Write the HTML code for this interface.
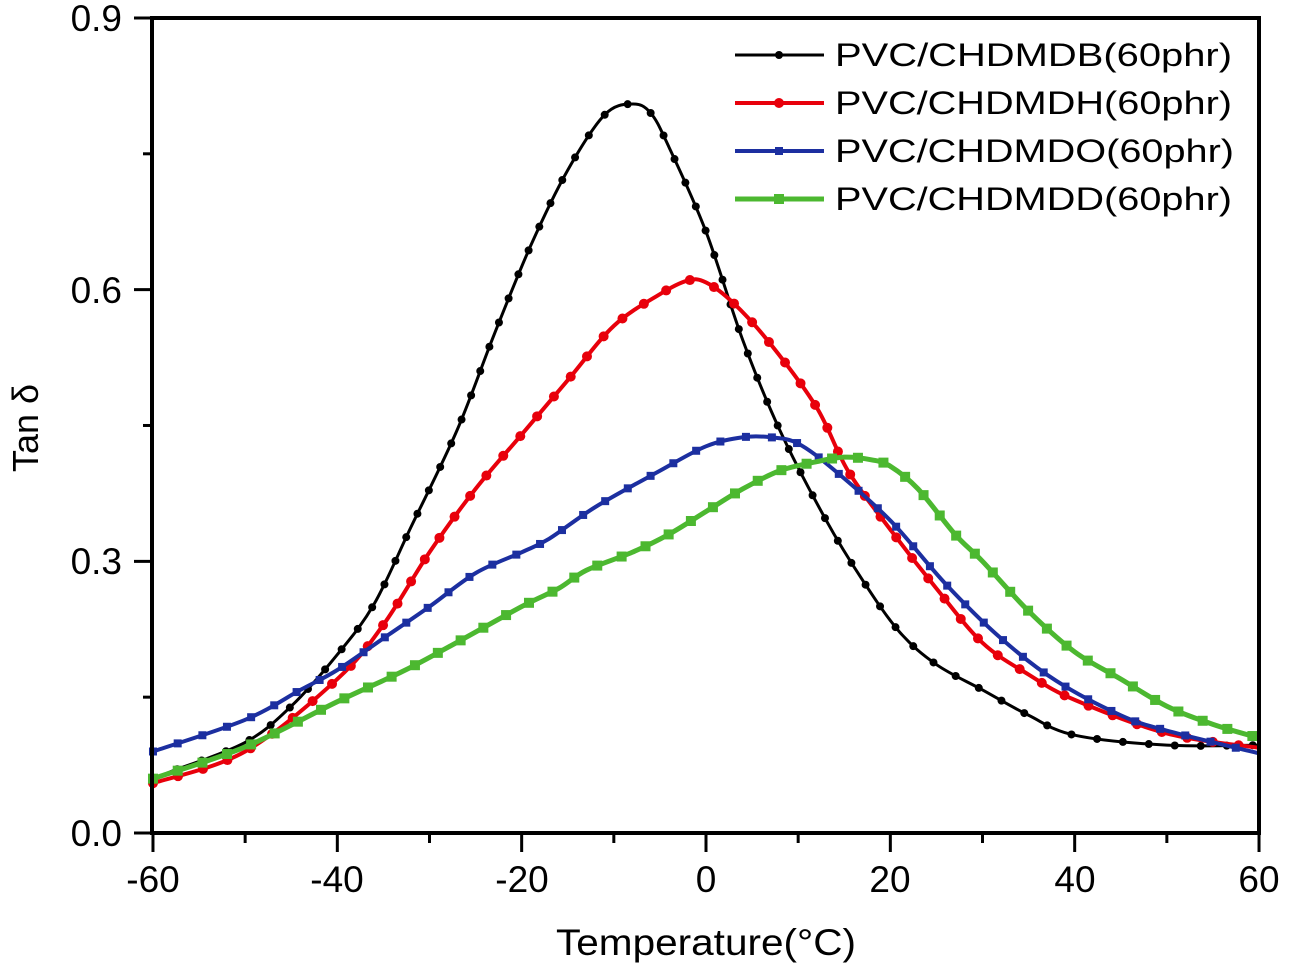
<!DOCTYPE html>
<html><head><meta charset="utf-8">
<style>html,body{margin:0;padding:0;background:#fff}svg{display:block}</style>
</head><body>
<svg id="s" width="1291" height="972" viewBox="0 0 1291 972" xmlns="http://www.w3.org/2000/svg" font-family="Liberation Sans, Arial, sans-serif">
<rect width="1291" height="972" fill="#fff"/>
<g id="curves"></g>
<rect x="152" y="18" width="1107" height="815" fill="none" stroke="#000" stroke-width="4"/>
<g id="ticks" stroke="#000" stroke-width="3"></g>
<g font-size="37" fill="#000">
<text x="122" y="31" text-anchor="end">0.9</text>
<text x="122" y="303" text-anchor="end">0.6</text>
<text x="122" y="574" text-anchor="end">0.3</text>
<text x="122" y="846" text-anchor="end">0.0</text>
<text x="153" y="892" text-anchor="middle">-60</text>
<text x="337" y="892" text-anchor="middle">-40</text>
<text x="522" y="892" text-anchor="middle">-20</text>
<text x="706" y="892" text-anchor="middle">0</text>
<text x="890" y="892" text-anchor="middle">20</text>
<text x="1075" y="892" text-anchor="middle">40</text>
<text x="1259" y="892" text-anchor="middle">60</text>
<text x="706" y="955" text-anchor="middle" textLength="300" lengthAdjust="spacingAndGlyphs">Temperature(°C)</text>
<text transform="translate(38,428) rotate(-90)" text-anchor="middle" font-size="36">Tan δ</text>
</g>
<g font-size="32" fill="#000">
<line x1="735" y1="55" x2="824" y2="55" stroke="#000" stroke-width="3"/><circle cx="779" cy="55" r="4" fill="#000"/>
<text x="835" y="66" textLength="397" lengthAdjust="spacingAndGlyphs">PVC/CHDMDB(60phr)</text>
<line x1="735" y1="103" x2="824" y2="103" stroke="#e8000b" stroke-width="4"/><circle cx="779" cy="103" r="5" fill="#e8000b"/>
<text x="835" y="114" textLength="397" lengthAdjust="spacingAndGlyphs">PVC/CHDMDH(60phr)</text>
<line x1="735" y1="151" x2="824" y2="151" stroke="#1c2fa0" stroke-width="4"/><rect x="775" y="147" width="8" height="8" fill="#1c2fa0"/>
<text x="835" y="162" textLength="399" lengthAdjust="spacingAndGlyphs">PVC/CHDMDO(60phr)</text>
<line x1="735" y1="199" x2="824" y2="199" stroke="#4cb830" stroke-width="5"/><rect x="774" y="194" width="10" height="10" fill="#4cb830"/>
<text x="835" y="210" textLength="397" lengthAdjust="spacingAndGlyphs">PVC/CHDMDD(60phr)</text>
</g>
</svg>
<script>
(function(){
var NS="http://www.w3.org/2000/svg";
function X(t){return 706+9.217*t;} function Y(v){return 833-905.6*v;}
var tk=document.getElementById('ticks');
function ln(a,b,c,d){var l=document.createElementNS(NS,'line');l.setAttribute('x1',a);l.setAttribute('y1',b);l.setAttribute('x2',c);l.setAttribute('y2',d);tk.appendChild(l);}
for(var t=-60;t<=60;t+=10){var maj=(t%20===0);ln(X(t),833,X(t),maj?852:843);}
for(var v=0;v<=0.9001;v+=0.15){var maj=Math.abs((v/0.3)-Math.round(v/0.3))<0.01;ln(152,Y(v),maj?134:143,Y(v));}
var S=[
{c:"#000",w:3,m:"c",r:4,d:[[-60,0.06],[-58,0.068],[-50,0.1],[-45,0.14],[-40,0.197],[-36,0.253],[-32,0.338],[-27,0.445],[-23,0.55],[-19,0.649],[-15,0.732],[-11,0.793],[-8,0.805],[-6,0.795],[-4,0.757],[0,0.664],[4,0.544],[8,0.445],[13,0.346],[17,0.279],[21,0.222],[25,0.186],[30,0.158],[35,0.13],[40,0.108],[50,0.097],[60,0.097]]},
{c:"#e8000b",w:4,m:"c",r:5,d:[[-60,0.055],[-50,0.09],[-40,0.17],[-35,0.23],[-30,0.31],[-25,0.38],[-20,0.44],[-15,0.5],[-10,0.56],[-5,0.595],[-2,0.61],[0,0.608],[3,0.585],[7,0.54],[12,0.47],[15.4,0.4],[20,0.335],[25,0.27],[30,0.21],[35,0.175],[40,0.147],[50,0.11],[60,0.094]]},
{c:"#1c2fa0",w:4,m:"s",r:4,d:[[-60,0.09],[-50,0.125],[-44,0.158],[-40,0.18],[-35,0.215],[-30,0.25],[-25,0.287],[-20,0.31],[-17,0.325],[-12,0.36],[-5,0.4],[0,0.427],[4,0.437],[7,0.437],[10,0.43],[14,0.4],[20,0.345],[26,0.275],[32,0.215],[38,0.168],[45,0.13],[50,0.113],[60,0.088]]},
{c:"#4cb830",w:5,m:"s",r:5,d:[[-60,0.06],[-50,0.095],[-40,0.145],[-33,0.178],[-28,0.205],[-20,0.25],[-16,0.27],[-13,0.29],[-8,0.31],[-4,0.33],[0,0.355],[4,0.38],[8,0.4],[12,0.41],[15,0.415],[18,0.412],[20,0.405],[23,0.38],[27,0.33],[30,0.3],[35,0.245],[40,0.2],[45,0.17],[50,0.14],[55,0.12],[60,0.105]]}
];
var g=document.getElementById('curves');
S.forEach(function(s){
 var p=s.d.map(function(q){return [X(q[0]),Y(q[1])];});
 var d="M"+p[0][0]+","+p[0][1];
 for(var i=0;i<p.length-1;i++){var p0=p[i-1]||p[i],p1=p[i],p2=p[i+1],p3=p[i+2]||p2;
  d+=" C"+(p1[0]+(p2[0]-p0[0])/6)+","+(p1[1]+(p2[1]-p0[1])/6)+" "+(p2[0]-(p3[0]-p1[0])/6)+","+(p2[1]-(p3[1]-p1[1])/6)+" "+p2[0]+","+p2[1];}
 var path=document.createElementNS(NS,'path');path.setAttribute('d',d);path.setAttribute('fill','none');path.setAttribute('stroke',s.c);path.setAttribute('stroke-width',s.w);g.appendChild(path);
 var L=path.getTotalLength();
 for(var l=0;l<=L;l+=26){var pt=path.getPointAtLength(l);var e;
  if(s.m==="c"){e=document.createElementNS(NS,'circle');e.setAttribute('cx',pt.x);e.setAttribute('cy',pt.y);e.setAttribute('r',s.r);}
  else{e=document.createElementNS(NS,'rect');e.setAttribute('x',pt.x-s.r);e.setAttribute('y',pt.y-s.r);e.setAttribute('width',2*s.r);e.setAttribute('height',2*s.r);}
  e.setAttribute('fill',s.c);g.appendChild(e);}
});
})();
</script>
</body></html>
